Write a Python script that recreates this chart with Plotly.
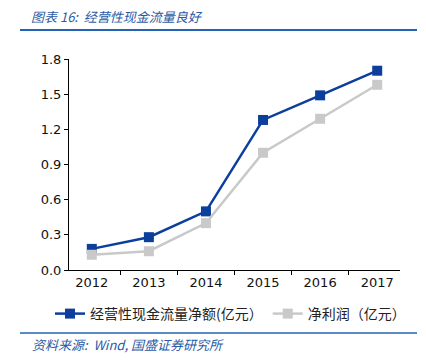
import plotly.graph_objects as go

years = ["2012", "2013", "2014", "2015", "2016", "2017"]
cash_flow = [0.18, 0.28, 0.50, 1.28, 1.49, 1.70]
net_profit = [0.13, 0.16, 0.40, 1.00, 1.29, 1.58]
y_ticks = [0.0, 0.3, 0.6, 0.9, 1.2, 1.5, 1.8]
name_cf = "经营性现金流量净额(亿元）"
name_np = "净利润（亿元）"
title_text = "图表 16:  经营性现金流量良好"
source_text = "资料来源:  Wind, 国盛证券研究所"

# page body has an 8px default margin; compensate so the view matches 426x362
OFF = 8
W, H = 426 - OFF, 362 - OFF
PL, PR, PT, PB = 69, 400, 59, 270  # plot area in window coords
L, R, T, B = PL - OFF, W - (PR - OFF), PT - OFF, H - (PB - OFF)
pw, ph = W - L - R, H - T - B

def px(x):
    return (x - OFF - L) / pw

def py(y):
    return (H - B - (y - OFF)) / ph

BLUE = "#0B3F9B"
GRAY = "#C9C9C9"
LINE_BLUE = "#2462B5"

fig = go.Figure()
fig.add_trace(go.Scatter(x=years, y=cash_flow, name=name_cf, mode="lines+markers",
                         line=dict(color=BLUE, width=2.5),
                         marker=dict(symbol="square", size=10, color=BLUE)))
fig.add_trace(go.Scatter(x=years, y=net_profit, name=name_np, mode="lines+markers",
                         line=dict(color=GRAY, width=2.5),
                         marker=dict(symbol="square", size=10, color=GRAY)))

font_main = "DejaVu Sans, Noto Sans CJK SC, sans-serif"
font_cjk = "Noto Sans CJK SC, sans-serif"

fig.update_layout(
    width=W, height=H,
    margin=dict(l=L, r=R, t=T, b=B),
    paper_bgcolor="white", plot_bgcolor="white",
    font=dict(family=font_main, size=13, color="#111111"),
    showlegend=True,
    legend=dict(orientation="h", x=px(50), y=py(298), xanchor="left", yanchor="top",
                font=dict(family=font_cjk, size=14, color="#222222"),
                bgcolor="rgba(0,0,0,0)", itemwidth=30, tracegroupgap=0),
    xaxis=dict(type="category", showline=True, linecolor="black", linewidth=1,
               ticks="outside", tickson="boundaries", ticklen=4, tickcolor="black",
               showgrid=False, zeroline=False, fixedrange=True,
               tickfont=dict(size=13, color="#111111")),
    yaxis=dict(range=[0, 1.8], tickvals=y_ticks, tickformat=".1f",
               showline=True, linecolor="black", linewidth=1,
               ticks="outside", ticklen=4, tickcolor="black",
               showgrid=False, zeroline=False,
               tickfont=dict(size=13, color="#111111")),
)

fig.add_shape(type="line", xref="paper", yref="paper", x0=px(20), x1=px(417),
              y0=py(30), y1=py(30), line=dict(color=LINE_BLUE, width=2))
fig.add_shape(type="line", xref="paper", yref="paper", x0=px(20), x1=px(417),
              y0=py(333), y1=py(333), line=dict(color=LINE_BLUE, width=1.5))

fig.add_annotation(text="<i>" + title_text + "</i>", xref="paper", yref="paper",
                   x=px(29), y=py(17), xanchor="left", yanchor="middle", showarrow=False,
                   font=dict(family=font_cjk, size=13, color="#2A5BA6"))
fig.add_annotation(text="<i>" + source_text + "</i>", xref="paper", yref="paper",
                   x=px(30), y=py(344), xanchor="left", yanchor="middle", showarrow=False,
                   font=dict(family=font_cjk, size=13, color="#2A5BA6"))

fig.write_html("out.html")
